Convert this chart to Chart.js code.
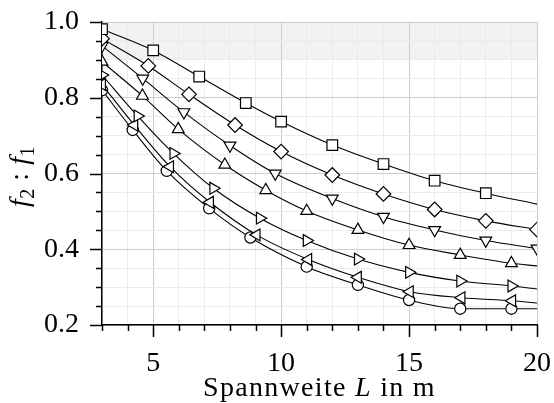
<!DOCTYPE html>
<html>
<head>
<meta charset="utf-8">
<script src="https://cdn.jsdelivr.net/npm/chart.js@4/dist/chart.umd.min.js"></script>
<style>
  html, body { margin: 0; padding: 0; background: #fff; }
  #wrap { width: 554px; height: 403px; }
</style>
</head>
<body>
<div id="wrap"><canvas id="c" width="554" height="403"></canvas></div>
<script>
// Frequency ratio f2 : f1 over span length L, one curve per configuration.
// Marker positions (x, y); an optional end value continues the curve to L = 20 m.
const squareX   = [3, 5, 6.8, 8.62, 10, 12, 14, 16, 18];
const squareY   = [0.981, 0.925, 0.856, 0.786, 0.737, 0.675, 0.625, 0.581, 0.548];
const squareEnd = 0.519;

const diamondX  = [3, 4.81, 6.4, 8.2, 10, 12, 14, 16, 18, 20];
const diamondY  = [0.956, 0.884, 0.809, 0.728, 0.658, 0.596, 0.546, 0.505, 0.475, 0.452];

const downX     = [3, 4.59, 6.2, 8.0, 9.77, 12, 14, 16, 18, 20];
const downY     = [0.937, 0.851, 0.762, 0.674, 0.600, 0.534, 0.486, 0.451, 0.423, 0.402];

const upX       = [3, 4.58, 5.98, 7.8, 9.4, 11, 13, 15, 17, 19];
const upY       = [0.895, 0.805, 0.717, 0.623, 0.556, 0.501, 0.451, 0.411, 0.385, 0.363];
const upEnd     = 0.356;

const rightX    = [3, 4.39, 5.79, 7.35, 9.17, 11, 13, 15, 17, 19];
const rightY    = [0.860, 0.752, 0.653, 0.561, 0.482, 0.423, 0.374, 0.339, 0.316, 0.303];
const rightEnd  = 0.295;

const leftX     = [3, 4.26, 5.66, 7.22, 9.04, 11.06, 13, 15.03, 17.05, 19.03];
const leftY     = [0.835, 0.728, 0.618, 0.524, 0.438, 0.373, 0.326, 0.288, 0.272, 0.264];
const leftEnd   = 0.258;

const circleX   = [3, 4.2, 5.53, 7.19, 8.8, 11, 13, 15, 17, 19];
const circleY   = [0.820, 0.715, 0.607, 0.508, 0.431, 0.354, 0.306, 0.266, 0.243, 0.243];
const circleEnd = 0.243;

const xMajorTicks = [5, 10, 15, 20];
const yMajorTicks = [0.2, 0.4, 0.6, 0.8, 1.0];
const xRange = [3, 20];
const yRange = [0.2, 1.0];
const bandRange = [0.9, 1.0];

const FONT = "'Liberation Serif', 'DejaVu Serif', serif";
const FS = 28;

function series(xs, ys, end, style, rotation, radius) {
  const pts = xs.map((x, i) => ({ x: x, y: ys[i] }));
  const nMarkers = pts.length;
  if (end !== undefined) pts.push({ x: xRange[1], y: end });
  return {
    data: pts,
    showLine: true,
    borderColor: '#000',
    borderWidth: 1.1,
    cubicInterpolationMode: 'monotone',
    tension: 0.4,
    pointStyle: style,
    rotation: rotation,
    pointRadius: c => (c.dataIndex < nMarkers ? radius : 0),
    pointHoverRadius: c => (c.dataIndex < nMarkers ? radius : 0),
    pointBackgroundColor: '#fff',
    pointBorderColor: '#000',
    pointBorderWidth: 1.2,
    clip: 0
  };
}

const isMajorX = v => xMajorTicks.some(m => Math.abs(m - v) < 1e-6);
const isMajorY = v => yMajorTicks.some(m => Math.abs(m - v) < 1e-6);

// background, shaded band at the top
const backdrop = {
  id: 'backdrop',
  beforeDraw(chart) {
    const { ctx, chartArea: a, scales: { y } } = chart;
    ctx.save();
    ctx.fillStyle = '#fff';
    ctx.fillRect(0, 0, chart.width, chart.height);
    ctx.fillStyle = '#f2f2f2';
    const y0 = y.getPixelForValue(bandRange[1]);
    const y1 = y.getPixelForValue(bandRange[0]);
    ctx.fillRect(a.left, y0, a.right - a.left, y1 - y0);
    ctx.restore();
  }
};

// outward tick marks: long for major, short for minor
const tickMarks = {
  id: 'tickMarks',
  afterDraw(chart) {
    const { ctx, chartArea: a, scales: { x, y } } = chart;
    ctx.save();
    ctx.strokeStyle = '#000';
    ctx.lineWidth = 1.5;
    ctx.beginPath();
    x.ticks.forEach(t => {
      const px = Math.round(x.getPixelForValue(t.value)) + 0.5;
      const len = isMajorX(t.value) ? 12 : 6;
      ctx.moveTo(px, a.bottom);
      ctx.lineTo(px, a.bottom + len);
    });
    y.ticks.forEach(t => {
      const py = Math.round(y.getPixelForValue(t.value)) + 0.5;
      const len = isMajorY(t.value) ? 12 : 6;
      ctx.moveTo(a.left, py);
      ctx.lineTo(a.left - len, py);
    });
    ctx.stroke();
    ctx.restore();
  }
};

// axis titles with italic symbols and subscripts
function drawRich(ctx, segs, cx, cy, angle, spacing) {
  const fontOf = s => (s.italic ? 'italic ' : '') + Math.round(FS * (s.sub ? 0.7 : 1)) + 'px ' + FONT;
  ctx.save();
  ctx.letterSpacing = spacing + 'px';
  let total = 0;
  segs.forEach(s => { ctx.font = fontOf(s); s.w = ctx.measureText(s.t).width; total += s.w; });
  ctx.translate(cx, cy);
  ctx.rotate(angle);
  ctx.fillStyle = '#000';
  ctx.textBaseline = 'alphabetic';
  ctx.textAlign = 'left';
  let xpos = -total / 2;
  segs.forEach(s => {
    ctx.font = fontOf(s);
    ctx.fillText(s.t, xpos, s.sub ? FS * 0.2 : 0);
    xpos += s.w;
  });
  ctx.restore();
}

const axisTitles = {
  id: 'axisTitles',
  afterDraw(chart) {
    const { ctx, chartArea: a } = chart;
    drawRich(ctx, [
      { t: 'Spannweite ' }, { t: 'L', italic: true }, { t: ' in m' }
    ], (a.left + a.right) / 2, 396, 0, 1.3);
    drawRich(ctx, [
      { t: 'f', italic: true }, { t: '2', sub: true }, { t: ' : ' },
      { t: 'f', italic: true }, { t: '1', sub: true }
    ], 28, (a.top + a.bottom) / 2 + 3, -Math.PI / 2, 0.5);
  }
};

new Chart(document.getElementById('c'), {
  type: 'scatter',
  data: {
    datasets: [
      series(squareX, squareY, squareEnd, 'rect', 0, 7.5),
      series(diamondX, diamondY, undefined, 'rectRot', 0, 7.3),
      series(downX, downY, undefined, 'triangle', 180, 6.8),
      series(upX, upY, upEnd, 'triangle', 0, 6.8),
      series(rightX, rightY, rightEnd, 'triangle', 90, 6.8),
      series(leftX, leftY, leftEnd, 'triangle', 270, 6.8),
      series(circleX, circleY, circleEnd, 'circle', 0, 5.6)
    ]
  },
  options: {
    responsive: false,
    animation: false,
    events: [],
    layout: { padding: { top: 22, right: 17, left: 0, bottom: 0 } },
    plugins: { legend: { display: false }, tooltip: { enabled: false } },
    scales: {
      x: {
        type: 'linear',
        min: xRange[0], max: xRange[1],
        afterFit: s => { s.height = 78; s.paddingLeft = 0; s.paddingRight = 0; },
        ticks: {
          stepSize: 1,
          autoSkip: false,
          maxRotation: 0,
          padding: 22,
          color: '#000',
          font: { family: FONT, size: FS },
          callback: v => (isMajorX(v) ? String(v) : '')
        },
        grid: {
          drawTicks: false,
          color: c => (isMajorX(c.tick.value) ? '#cccccc' : '#ebebeb'),
          lineWidth: 1
        },
        border: { display: true, color: '#000', width: 1.5 }
      },
      y: {
        type: 'linear',
        min: yRange[0], max: yRange[1],
        afterFit: s => { s.width = 102; s.paddingTop = 0; s.paddingBottom = 0; },
        ticks: {
          stepSize: 0.05,
          autoSkip: false,
          padding: 23,
          color: '#000',
          font: { family: FONT, size: FS },
          callback: v => (isMajorY(v) ? v.toFixed(1) : '')
        },
        grid: {
          drawTicks: false,
          color: c => (isMajorY(c.tick.value) ? '#cccccc' : '#ebebeb'),
          lineWidth: 1
        },
        border: { display: true, color: '#000', width: 1.5 }
      }
    }
  },
  plugins: [backdrop, tickMarks, axisTitles]
});
</script>
</body>
</html>
